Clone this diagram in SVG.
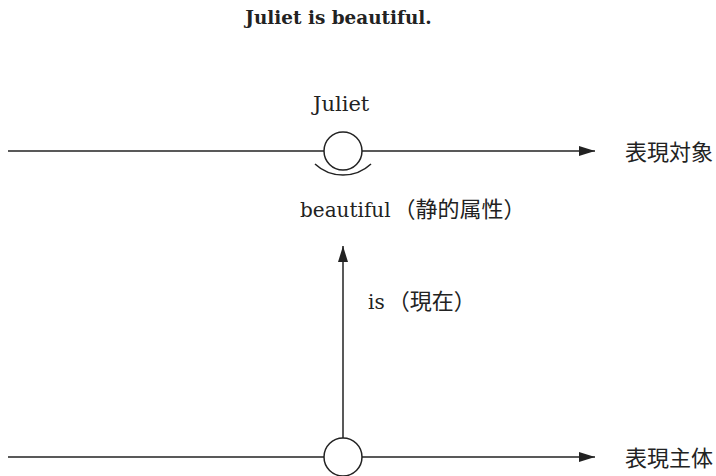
<svg xmlns="http://www.w3.org/2000/svg" width="716" height="476" viewBox="0 0 716 476">
<style>
.ln{stroke:#222;stroke-width:1.5;fill:none}
.nd{stroke:#222;stroke-width:1.5;fill:#fff}
.t{font-family:"DejaVu Serif","Noto Sans CJK JP",serif;font-size:20px;fill:#222}
.j{font-family:"Noto Sans CJK JP",sans-serif;font-size:22px;fill:#222}
</style>
<defs>
<marker id="ah" viewBox="0 0 16 10" refX="16" refY="5" markerWidth="16" markerHeight="10" markerUnits="userSpaceOnUse" orient="auto">
<path d="M0,0 L16,5 L0,10 Z" fill="#222"/>
</marker>
</defs>
<text x="338.5" y="24" text-anchor="middle" class="t" style="font-weight:bold;font-size:18.4px">Juliet is beautiful.</text>
<g id="connectors">
<line class="ln" x1="8" y1="151" x2="595" y2="151" marker-end="url(#ah)"/>
<line class="ln" x1="8" y1="457" x2="595" y2="457" marker-end="url(#ah)"/>
<line class="ln" x1="343" y1="438" x2="343" y2="246" marker-end="url(#ah)"/>
</g>
<g id="juliet">
<circle class="nd" cx="343" cy="151" r="19"/>
<path class="ln" d="M315,164 A41,41 0 0 0 371,164"/>
<text x="313" y="111" class="t" style="font-size:21px">Juliet</text>
<text x="300" y="217" class="t">beautiful<tspan class="j" dx="3">（静的属性）</tspan></text>
</g>
<g id="speaker">
<circle class="nd" cx="343" cy="457" r="19"/>
</g>
<text x="368" y="309" class="t">is<tspan class="j" dx="3">（現在）</tspan></text>
<text x="625" y="160" class="j">表現対象</text>
<text x="625" y="466" class="j">表現主体</text>
</svg>
